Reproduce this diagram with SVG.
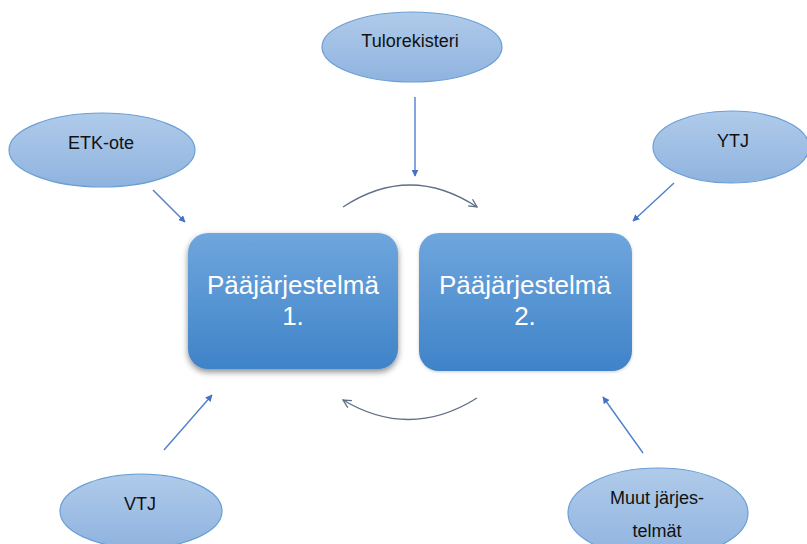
<svg xmlns="http://www.w3.org/2000/svg" width="807" height="544" viewBox="0 0 807 544">
<style>
.ell{fill:url(#eg);stroke:#6a9fd6;stroke-width:1.2}
.et{font-family:"Liberation Sans",Arial,sans-serif;font-size:18px;fill:#111;text-anchor:middle}
.box{fill:url(#bg)}
.bt{font-family:"Liberation Sans",Arial,sans-serif;font-size:26px;fill:#fff;text-anchor:middle}
.ar{stroke:#4f7fcf;stroke-width:1.4;fill:none;marker-end:url(#ah)}
.arc{stroke:#5f6f85;stroke-width:1.3;fill:none;marker-end:url(#oh)}
</style>
<defs>
<linearGradient id="eg" x1="0" y1="0" x2="0" y2="1">
<stop offset="0" stop-color="#b0cbea"/><stop offset="1" stop-color="#8fb3df"/>
</linearGradient>
<linearGradient id="bg" x1="0" y1="0" x2="0" y2="1">
<stop offset="0" stop-color="#6fa6dd"/><stop offset="1" stop-color="#3f83c8"/>
</linearGradient>
<filter id="sh" x="-20%" y="-20%" width="140%" height="140%">
<feDropShadow dx="0" dy="3" stdDeviation="3" flood-color="#000" flood-opacity="0.45"/>
</filter>
<filter id="sh2" x="-20%" y="-20%" width="140%" height="140%">
<feDropShadow dx="0" dy="1" stdDeviation="1.5" flood-color="#000" flood-opacity="0.2"/>
</filter>
<marker id="ah" viewBox="0 0 10 10" refX="9" refY="5" markerWidth="7" markerHeight="7" orient="auto" markerUnits="userSpaceOnUse">
<path d="M0,0 L10,5 L0,10 z" fill="#4472c4"/>
</marker>
<marker id="oh" viewBox="0 0 10 10" refX="9" refY="5" markerWidth="10" markerHeight="10" orient="auto" markerUnits="userSpaceOnUse">
<path d="M1,1 L9,5 L1,9" fill="none" stroke="#5f6f85" stroke-width="1.3"/>
</marker>
</defs>
<g id="connectors">
<line class="ar" x1="153" y1="190" x2="185" y2="222"/>
<line class="ar" x1="415" y1="97" x2="415" y2="176"/>
<line class="ar" x1="674" y1="183" x2="633" y2="221"/>
<line class="ar" x1="164" y1="450" x2="212" y2="395"/>
<line class="ar" x1="643" y1="453" x2="603" y2="397"/>
<path class="arc" d="M343,207 Q410,163 477,207"/>
<path class="arc" d="M477,398 Q410,440 343,400"/>
</g>
<g id="paa1">
<rect class="box" x="188" y="233" width="210" height="136" rx="20" filter="url(#sh)"/>
<text class="bt" x="293" y="294">Pääjärjestelmä</text>
<text class="bt" x="293" y="325">1.</text>
</g>
<g id="paa2">
<rect class="box" x="419" y="233" width="213" height="138" rx="20" filter="url(#sh2)"/>
<text class="bt" x="525" y="294">Pääjärjestelmä</text>
<text class="bt" x="525" y="325">2.</text>
</g>
<g id="etk">
<ellipse class="ell" cx="102" cy="150" rx="93" ry="37"/>
<text class="et" x="101" y="149">ETK-ote</text>
</g>
<g id="tulo">
<ellipse class="ell" cx="412" cy="47" rx="90" ry="35"/>
<text class="et" x="410" y="47">Tulorekisteri</text>
</g>
<g id="ytj">
<ellipse class="ell" cx="731" cy="147" rx="78" ry="36"/>
<text class="et" x="733" y="147">YTJ</text>
</g>
<g id="vtj">
<ellipse class="ell" cx="141" cy="511" rx="81" ry="37"/>
<text class="et" x="140" y="510">VTJ</text>
</g>
<g id="muut">
<ellipse class="ell" cx="658" cy="513" rx="90" ry="45"/>
<text class="et" x="657" y="504">Muut järjes-</text>
<text class="et" x="657" y="537">telmät</text>
</g>
</svg>
